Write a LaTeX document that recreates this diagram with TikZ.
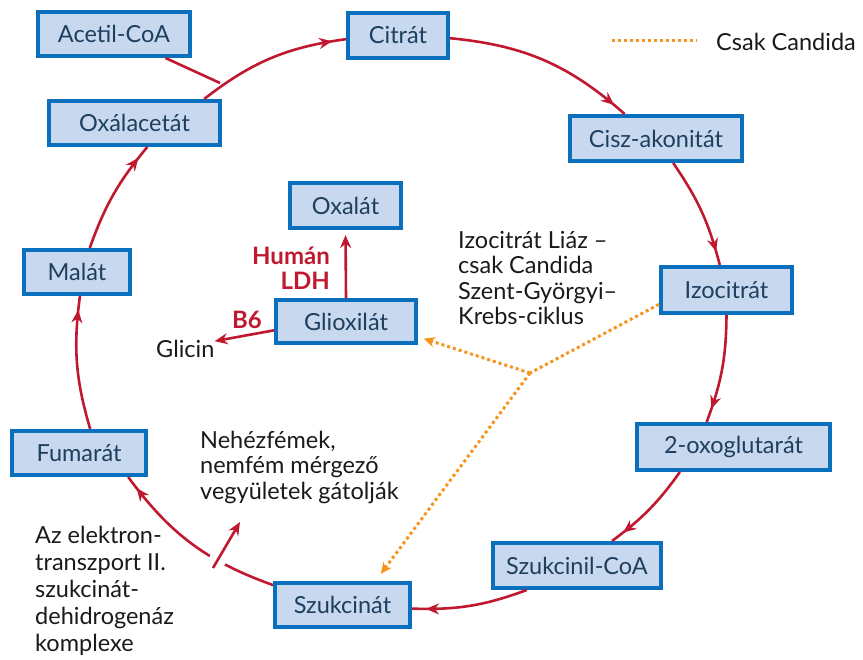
\documentclass[tikz,border=0pt]{standalone}
\usepackage{fontspec}
\setmainfont{Lato}
\usetikzlibrary{arrows.meta,decorations.markings}
\definecolor{cred}{HTML}{C0192F}
\definecolor{cblue}{HTML}{0A70BE}
\definecolor{cfill}{HTML}{C8D9EF}
\definecolor{corange}{HTML}{F7941D}
\definecolor{ctext}{HTML}{1E3F5E}
\definecolor{cblack}{HTML}{1A1A1A}
\begin{document}
\begin{tikzpicture}[x=1pt,y=-1pt,
  box/.style={draw=cblue, line width=4pt, fill=cfill, text=ctext,
    font=\fontsize{23.5}{26}\selectfont, inner sep=0pt, minimum height=44pt},
  flow/.style={draw=cred, line width=2.6pt,
    postaction={decorate},
    decoration={markings, mark=at position -14pt with {\arrow[cred]{Stealth[length=13pt,width=11pt]}}}},
  redarrow/.style={draw=cred, line width=2.6pt, -{Stealth[length=13pt,width=11pt]}},
  candida/.style={draw=corange, line width=3pt, dash pattern=on 3pt off 3pt},
  candarrow/.style={candida, -{Stealth[length=11pt,width=10pt,inset=3pt]}},
  lbl/.style={text=cblack, font=\fontsize{23.5}{25.5}\selectfont, inner sep=0pt},
  redlbl/.style={text=cred, font=\bfseries\fontsize{24}{25.5}\selectfont, inner sep=0pt}
]
\useasboundingbox (0,0) rectangle (863,660);

% nodes
\node[box, minimum width=152pt] (ace) at (114,34) {Acetil-CoA};
\node[box, minimum width=100pt, minimum height=45pt] (cit) at (398,35.5) {Citrát};
\node[box, minimum width=172pt, minimum height=45pt] (cak) at (656,138.5) {Cisz-akonitát};
\node[box, minimum width=131pt, minimum height=46pt] (izo) at (726.5,290) {Izocitrát};
\node[box, minimum width=193pt, minimum height=46pt] (oxo) at (733.5,447) {2-oxoglutarát};
\node[box, minimum width=168pt, minimum height=45pt] (szc) at (577,565.5) {Szukcinil-CoA};
\node[box, minimum width=135pt] (szn) at (342.5,605) {Szukcinát};
\node[box, minimum width=134pt] (fum) at (79,453) {Fumarát};
\node[box, minimum width=106pt] (mal) at (77,272) {Malát};
\node[box, minimum width=171pt] (oxa) at (134.5,123) {Oxálacetát};
\node[box, minimum width=111pt, minimum height=45pt] (oxl) at (345.5,205.5) {Oxalát};
\node[box, minimum width=140pt, minimum height=43pt] (glx) at (346,321.5) {Glioxilát};

% labels
\node[lbl, anchor=west] (gli) at (156,349) {Glicin};
\node[redlbl, align=right, anchor=east] (hum) at (330,268) {Humán\\LDH};
\node[redlbl] (b6) at (247,320) {B6};
\node[lbl, align=left, anchor=west] (liaz) at (458,278) {Izocitrát Liáz –\\csak Candida\\Szent-Györgyi–\\Krebs-ciklus};
\node[lbl, align=left, anchor=west] (nehez) at (200,467) {Nehézfémek,\\nemfém mérgező\\vegyületek gátolják};
\node[lbl, align=left, anchor=west, font=\fontsize{23.5}{27}\selectfont] (elek) at (35,591) {Az elektron-\\transzport II.\\szukcinát-\\dehidrogenáz\\komplexe};
\node[lbl, anchor=west] (leg) at (716,42) {Csak Candida};

% cycle
\draw[flow] (oxa.19) to[bend left=15] (cit.184);
\draw[flow] (cit.-3) to[bend left=18] (cak.142);
\draw[flow] (cak.-55) to[bend left=10] (izo.105);
\draw[flow] (izo.south) to[bend left=10] (oxo.137);
\draw[flow] (oxo.205) to[bend left=9] (szc.35);
\draw[flow] (szc.206) to[bend left=11] (szn.-3);
\draw[flow] (szn.164) to[bend left=17] (fum.-26);
\draw[flow] (fum.65) to[bend left=12] (mal.-83);
\draw[flow] (mal.62) to[bend left=10] (oxa.-62);

% acetyl-CoA joins
\coordinate (join) at (220,83);
\draw[draw=cred, line width=2.6pt] (ace.-25) -- (join);

% inhibition
\coordinate (inhA) at (213,568);
\coordinate (inhB) at (240,522);
\coordinate (gapA) at (215.5,563.5);
\coordinate (gapB) at (220.5,555);
\draw[white, line width=17pt] (gapA) -- (gapB);
\draw[redarrow] (inhA) -- (inhB);

% side reactions
\draw[redarrow, shorten >=5pt] (glx.north) -- (oxl.south);
\draw[redarrow] (glx.187.5) -- (gli.15);

% Candida bypass
\coordinate (junc) at (530,373);
\draw[candida] (izo.192) -- (junc);
\draw[candarrow, shorten >=6pt] (junc) -- (glx.-12);
\draw[candarrow, shorten >=9pt] (junc) -- (szn.36);

% legend
\coordinate (legA) at (612,41);
\coordinate (legB) at (697,41);
\draw[candida] (legA) -- (legB);
\end{tikzpicture}
\end{document}
